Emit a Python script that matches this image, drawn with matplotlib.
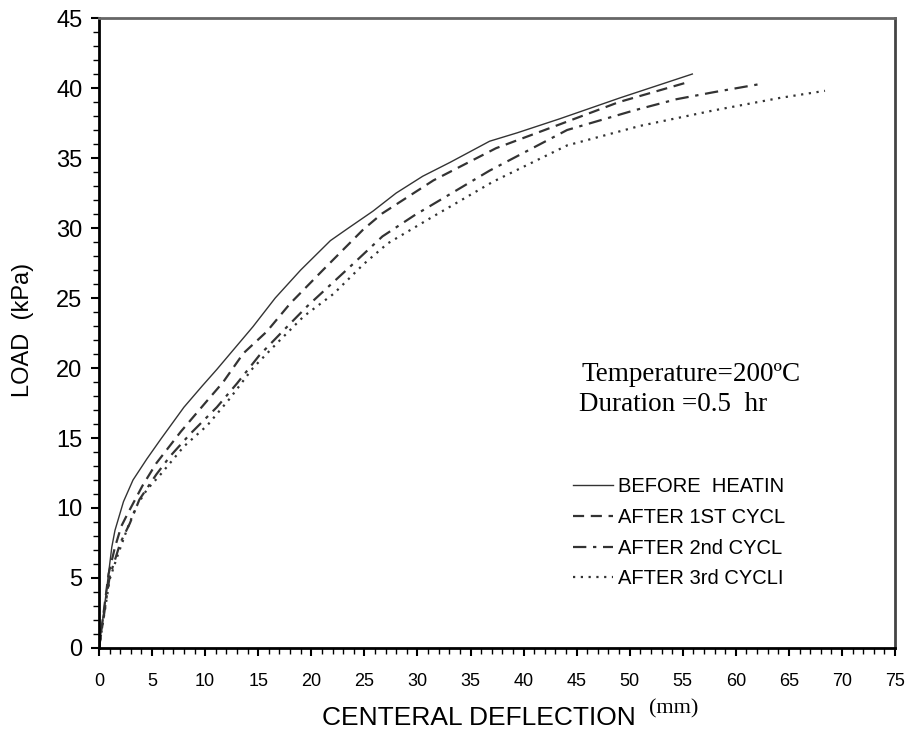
import matplotlib
matplotlib.use('Agg')
import matplotlib.pyplot as plt
from matplotlib.ticker import MultipleLocator
import warnings
warnings.filterwarnings('ignore')

# load-deflection data
before_x = [0, 0.7, 1.2, 1.5, 2.3, 3.2, 4.5, 5.8, 8.0, 9.7, 11.1, 14.5, 16.6, 19.0, 21.8,
            23.5, 25.8, 28.0, 30.5, 33.1, 36.8, 39.4, 43.4, 49.1, 55.9]
before_y = [0, 4.1, 7.2, 8.4, 10.45, 12.0, 13.5, 14.9, 17.2, 18.7, 19.9, 22.95, 25.0, 27.0, 29.1,
            30.0, 31.2, 32.5, 33.7, 34.7, 36.2, 36.8, 37.8, 39.3, 41.0]

cyc1_x = [0, 0.9, 1.5, 2.1, 2.7, 4.1, 5.4, 7.7, 10.0, 11.7, 13.6, 15.8, 18.0, 21.1, 24.9,
          26.7, 31.5, 37.4, 44.1, 49.0, 55.4]
cyc1_y = [0, 5.3, 7.2, 8.7, 9.6, 11.6, 13.2, 15.45, 17.5, 19.0, 21.05, 22.6, 24.6, 27.0, 29.9,
          31.05, 33.4, 35.7, 37.6, 39.0, 40.4]

cyc2_x = [0, 1.0, 2.0, 2.9, 3.8, 5.4, 6.7, 8.6, 11.1, 13.0, 15.1, 17.4, 19.6, 23.6, 26.7,
          29.7, 36.8, 44.1, 50.4, 54.4, 57.9, 62.4]
cyc2_y = [0, 5.1, 7.5, 8.9, 10.6, 12.4, 13.7, 15.3, 17.2, 18.9, 20.9, 22.7, 24.4, 27.2, 29.4,
          30.9, 34.1, 37.0, 38.4, 39.2, 39.7, 40.3]

cyc3_x = [0, 1.0, 1.7, 2.6, 3.5, 4.5, 5.8, 8.0, 10.2, 12.3, 14.5, 16.8, 19.3, 22.1, 24.9,
          27.2, 31.2, 37.1, 44.1, 51.0, 57.9, 64.2, 68.4]
cyc3_y = [0, 4.9, 6.5, 8.4, 10.1, 11.3, 12.4, 14.4, 15.9, 17.8, 20.0, 21.8, 23.7, 25.3, 27.4,
          28.9, 30.7, 33.3, 35.9, 37.3, 38.4, 39.3, 39.8]

labels = ['BEFORE  HEATIN', 'AFTER 1ST CYCL', 'AFTER 2nd CYCL', 'AFTER 3rd CYCLI']

narrow = ['Liberation Sans Narrow', 'DejaVu Sans Condensed', 'Liberation Sans']

fig = plt.figure(figsize=(9.12, 7.42), dpi=100)
ax = fig.add_axes([0.1086, 0.1267, 0.8728, 0.849])

ax.plot(before_x, before_y, color='#333333', lw=1.0, ls='-', label=labels[0])
ax.plot(cyc1_x, cyc1_y, color='#333333', lw=1.6, ls=(0, (5, 3)), label=labels[1])
ax.plot(cyc2_x, cyc2_y, color='#333333', lw=1.6, ls=(0, (6, 3, 1.5, 3)), label=labels[2])
ax.plot(cyc3_x, cyc3_y, color='#333333', lw=1.6, ls=(0, (1, 2.5)), label=labels[3])

ax.set_xlim(0, 75)
ax.set_ylim(0, 45)
ax.xaxis.set_major_locator(MultipleLocator(5))
ax.xaxis.set_minor_locator(MultipleLocator(1))
ax.yaxis.set_major_locator(MultipleLocator(5))
ax.yaxis.set_minor_locator(MultipleLocator(1))
ax.tick_params(which='major', direction='out', length=6, width=1.5, color='black')
ax.tick_params(which='minor', direction='out', length=4, width=1.0, color='black')
ax.tick_params(axis='x', which='major', pad=12)
ax.tick_params(axis='y', which='major', pad=6, labelsize=17)
for lbl in ax.get_yticklabels():
    lbl.set_family('Liberation Sans')
for lbl in ax.get_xticklabels():
    lbl.set_family(narrow)
    lbl.set_fontsize(13)

ax.spines['left'].set_linewidth(2.0)
ax.spines['bottom'].set_linewidth(2.0)
ax.spines['top'].set_linewidth(2.0)
ax.spines['top'].set_color('#666666')
ax.spines['right'].set_linewidth(2.0)
ax.spines['right'].set_color('#444444')

ax.text(0.6055, 0.4238, 'Temperature=200ºC', transform=ax.transAxes, va='baseline',
        family='Liberation Serif', fontsize=19.5)
ax.text(0.603, 0.376, 'Duration =0.5  hr', transform=ax.transAxes, va='baseline',
        family='Liberation Serif', fontsize=19.5)

leg = ax.legend(loc='upper left', bbox_to_anchor=(0.583, 0.287), frameon=False,
                borderpad=0, handlelength=2.0, handletextpad=0.25, labelspacing=0.58,
                prop={'family': 'Liberation Sans', 'size': 14.5})

fig.text(0.025, 0.555, 'LOAD  (kPa)', rotation=90, ha='center', va='center',
         family=narrow, fontsize=17)
fig.text(0.525, 0.032, 'CENTERAL DEFLECTION', ha='center', va='center',
         family=narrow, fontsize=19)
fig.text(0.712, 0.044, '(mm)', ha='left', va='center',
         family='Liberation Serif', fontsize=16)

plt.savefig('out.png', dpi=100)
